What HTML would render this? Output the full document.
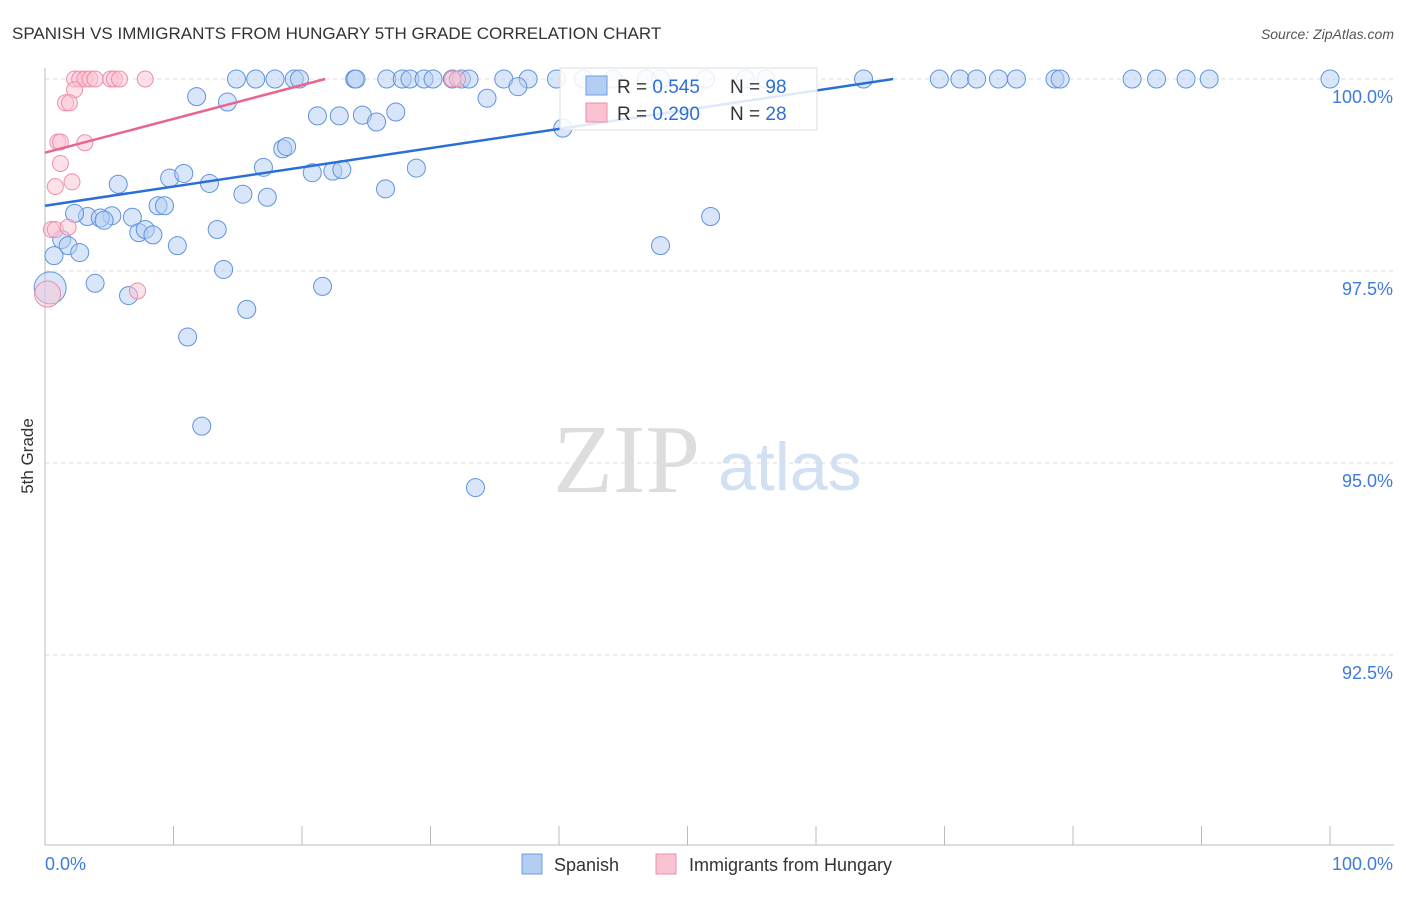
<!DOCTYPE html>
<html><head><meta charset="utf-8"><style>
body{margin:0;background:#fff;font-family:"Liberation Sans",sans-serif;}
</style></head><body>
<svg id="c" width="1406" height="892" style="font-family:'Liberation Sans',sans-serif">
<text x="12" y="39" font-size="17" fill="#333">SPANISH VS IMMIGRANTS FROM HUNGARY 5TH GRADE CORRELATION CHART</text>
<text x="1394" y="39" font-size="14" fill="#555" font-style="italic" text-anchor="end">Source: ZipAtlas.com</text>
<text x="33" y="456" font-size="17" fill="#333" text-anchor="middle" transform="rotate(-90 33 456)">5th Grade</text>
<text x="553" y="492" font-size="98" fill="#ddd" style="font-family:'Liberation Serif',serif">ZIP</text>
<text x="718" y="490" font-size="68" fill="#d2e0f4">atlas</text>
<g id="grid"></g><g id="pts"></g><g id="lines"></g>
<g>
<rect x="560" y="68" width="257" height="62" fill="#fff" fill-opacity="0.85" stroke="#ddd"/>
<rect x="586" y="76" width="21" height="19" fill="#b3cdf3" stroke="#6f9de0"/>
<text x="617" y="93" font-size="19" fill="#333">R = <tspan fill="#2d6fd6">0.545</tspan></text>
<text x="730" y="93" font-size="19" fill="#333">N = <tspan fill="#2d6fd6">98</tspan></text>
<rect x="586" y="103" width="21" height="19" fill="#f9c3d2" stroke="#ec8fab"/>
<text x="617" y="120" font-size="19" fill="#333">R = <tspan fill="#2d6fd6">0.290</tspan></text>
<text x="730" y="120" font-size="19" fill="#333">N = <tspan fill="#2d6fd6">28</tspan></text>
</g>
<g>
<rect x="522" y="854" width="20" height="20" fill="#b3cdf3" stroke="#6f9de0"/>
<text x="554" y="871" font-size="18" fill="#333">Spanish</text>
<rect x="656" y="854" width="20" height="20" fill="#f9c3d2" stroke="#ec8fab"/>
<text x="689" y="871" font-size="18" fill="#333">Immigrants from Hungary</text>
</g>
<text x="45" y="870" font-size="18" fill="#3d7bd9">0.0%</text>
<text x="1393" y="870" font-size="18" fill="#3d7bd9" text-anchor="end">100.0%</text>
</svg>
<script>
const yTicks=[100,97.5,95,92.5];
const yTickLabels=["100.0%","97.5%","95.0%","92.5%"];
const blueX=[14.9,16.4,17.9,19.4,19.8,24.1,24.2,26.6,27.8,28.4,29.5,30.2,31.7,32.4,33,35.7,37.6,39.8,41.9,44.2,46.8,47.9,51.4,54.5,56.1,63.7,69.6,71.2,72.5,74.2,75.6,78.6,79,84.6,86.5,88.8,90.6,100,
11.8,14.2,21.2,22.9,24.7,25.8,27.3,34.4,36.8,40.3,18.5,18.8,9.7,10.8,12.8,17,20.8,22.4,23.1,28.9,15.4,17.3,26.5,5.7,8.8,9.3,3.3,5.2,2.3,4.3,4.6,6.8,7.3,7.8,8.4,13.4,1.3,1.8,2.7,10.3,0.7,13.9,3.9,6.5,21.6,15.7,11.1,12.2,33.5,47.9,51.8,0.4];
const blueY=[100,100,100,100,100,100,100,100,100,100,100,100,100,100,100,100,100,100,100,100,100,100,100,100,100,100,100,100,100,100,100,100,100,100,100,100,100,100,
99.77,99.7,99.52,99.52,99.53,99.44,99.57,99.75,99.9,99.36,99.09,99.12,98.71,98.77,98.64,98.85,98.78,98.8,98.82,98.84,98.5,98.46,98.57,98.63,98.35,98.35,98.21,98.22,98.25,98.19,98.16,98.2,98.0,98.04,97.97,98.04,97.91,97.83,97.74,97.83,97.7,97.52,97.34,97.18,97.3,97.0,96.64,95.48,94.68,97.83,98.21,97.28];
const pinkX=[2.3,2.7,3.1,3.5,3.9,5.1,5.4,5.8,7.8,31.7,32.1,2.3,1.6,1.9,1,1.2,3.1,1.2,0.8,2.1,0.5,0.8,1.8,7.2,0.2];
const pinkY=[100,100,100,100,100,100,100,100,100,100,100,99.86,99.69,99.69,99.18,99.18,99.17,98.9,98.6,98.66,98.04,98.04,98.07,97.24,97.2];
const blueTrend=[[0,98.35],[66,100]];
const pinkTrend=[[0,99.04],[21.8,100]];
const sx=v=>45+v/100*1285, sy=v=>79+(100-v)/2.5*192;
const NS="http://www.w3.org/2000/svg";
function mk(t,a,p){const e=document.createElementNS(NS,t);for(const k in a)e.setAttribute(k,a[k]);p.appendChild(e);return e;}
const grid=document.getElementById('grid');
yTicks.forEach((t,i)=>{
 const l=mk('line',{x1:45,x2:1394,y1:sy(t),y2:sy(t),stroke:'#ddd','stroke-dasharray':'4,4'},grid);
 
 
 const tx=mk('text',{x:1393,y:sy(t)+24,'font-size':18,fill:'#3d7bd9','text-anchor':'end'},grid);
 tx.textContent=yTickLabels[i];
 
 
});
mk('line',{x1:45,x2:45,y1:68,y2:845,stroke:'#bbb'},grid);
mk('line',{x1:45,x2:1394,y1:845,y2:845,stroke:'#bbb'},grid);
for(let i=0;i<=10;i++){const t=mk('line',{x1:sx(i*10),x2:sx(i*10),y1:826,y2:845,stroke:'#bbb'},grid);
 
 }
const pts=document.getElementById('pts');
blueX.forEach((x,i)=>{const c=mk('circle',{cx:sx(x),cy:sy(blueY[i]),r:i==blueX.length-1?16:9,fill:'#b3cdf3','fill-opacity':0.5,stroke:'#5f93de','stroke-width':1},pts);
 
 });
pinkX.forEach((x,i)=>{const c=mk('circle',{cx:sx(x),cy:sy(pinkY[i]),r:i==pinkX.length-1?13:8,fill:'#f9c3d2','fill-opacity':0.5,stroke:'#ec8fab','stroke-width':1},pts);
 
 });
const ln=document.getElementById('lines');
let b=mk('line',{x1:sx(blueTrend[0][0]),y1:sy(blueTrend[0][1]),x2:sx(blueTrend[1][0]),y2:sy(blueTrend[1][1]),stroke:'#2a6fd6','stroke-width':2.5},ln);


let p=mk('line',{x1:sx(pinkTrend[0][0]),y1:sy(pinkTrend[0][1]),x2:sx(pinkTrend[1][0]),y2:sy(pinkTrend[1][1]),stroke:'#e8658d','stroke-width':2.5},ln);


</script>
</body></html>
